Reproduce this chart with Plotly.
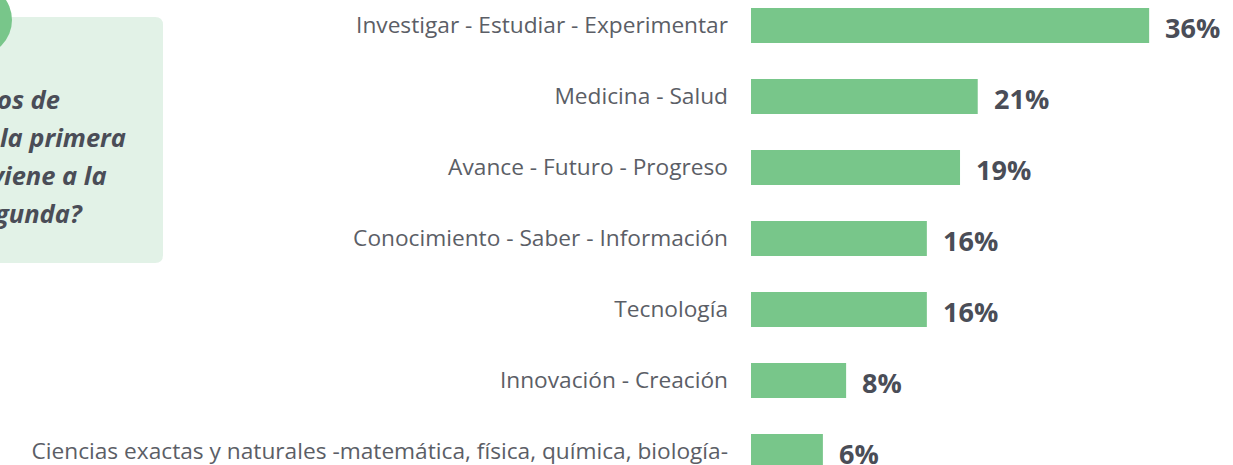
import plotly.graph_objects as go

categories = [
    "Investigar - Estudiar - Experimentar",
    "Medicina - Salud",
    "Avance - Futuro - Progreso",
    "Conocimiento - Saber - Información",
    "Tecnología",
    "Innovación - Creación",
    "Ciencias exactas y naturales -matemática, física, química, biología-",
]
values = [36, 20.5, 18.9, 15.9, 15.9, 8.6, 6.5]
value_labels = ["36%", "21%", "19%", "16%", "16%", "8%", "6%"]
box_lines = ["os de", "la primera", "viene a la", "gunda?"]

W, H = 1233, 465
GREEN = "#78C68A"
TEXT_DARK = "#4A4D57"
TEXT_CAT = "#5B5E66"

fig = go.Figure()
fig.add_trace(go.Bar(
    x=values, y=categories, orientation="h",
    marker=dict(color=GREEN, line=dict(width=0)),
    hoverinfo="skip",
))

annotations = []
for v, c, lab in zip(values, categories, value_labels):
    annotations.append(dict(
        x=v, y=c, xref="x", yref="y", text=lab, showarrow=False,
        xanchor="left", yanchor="middle", xshift=14, yshift=-2,
        font=dict(family="Open Sans", size=27, color=TEXT_DARK, weight="bold"),
    ))

# left question box text (cut off at the left edge)
line_y = [99, 137, 175, 213]
line_right = [62, 128, 109, 85]
for t, py, px in zip(box_lines, line_y, line_right):
    annotations.append(dict(
        x=px / W, y=1 - py / H, xref="paper", yref="paper", text=t,
        showarrow=False, xanchor="right", yanchor="middle",
        font=dict(family="Open Sans", size=25.5, color=TEXT_DARK,
                  weight="bold", style="italic"),
    ))

def px2x(p):
    return p / W

def py2y(p):
    return 1 - p / H

bx0, bx1, by0, by1, r = -20, 163, 17, 263, 8
path = (
    f"M {px2x(bx0)},{py2y(by0)} "
    f"L {px2x(bx1 - r)},{py2y(by0)} "
    f"Q {px2x(bx1)},{py2y(by0)} {px2x(bx1)},{py2y(by0 + r)} "
    f"L {px2x(bx1)},{py2y(by1 - r)} "
    f"Q {px2x(bx1)},{py2y(by1)} {px2x(bx1 - r)},{py2y(by1)} "
    f"L {px2x(bx0)},{py2y(by1)} Z"
)
shapes = [
    dict(type="path", path=path, xref="paper", yref="paper",
         fillcolor="#E2F2E7", line=dict(width=0), layer="below"),
    dict(type="circle", xref="paper", yref="paper",
         x0=px2x(-60), x1=px2x(12), y0=py2y(56), y1=py2y(-16),
         fillcolor=GREEN, line=dict(width=0), layer="above"),
]

fig.update_layout(
    width=W, height=H,
    margin=dict(l=0, r=0, t=0, b=0),
    paper_bgcolor="white", plot_bgcolor="white",
    showlegend=False,
    bargap=0.507,
    xaxis=dict(domain=[751 / W, 1], range=[0, 482 / 11.06],
               visible=False, fixedrange=True),
    yaxis=dict(categoryorder="array", categoryarray=categories,
               range=[(465 - 25.5) / 71, -25.5 / 71],
               showgrid=False, zeroline=False, showline=False,
               ticks="", ticklabelstandoff=22, automargin=False,
               fixedrange=True,
               tickfont=dict(family="Open Sans", size=22.7, color=TEXT_CAT)),
    annotations=annotations,
    shapes=shapes,
)

fig.write_html("out.html", config={"displayModeBar": False},
               post_script="document.body.style.margin='0px';")
